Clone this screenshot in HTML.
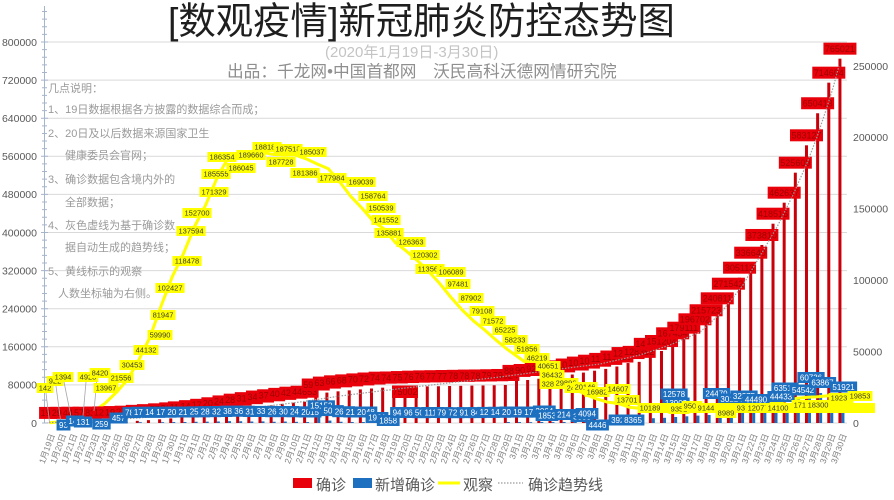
<!DOCTYPE html>
<html><head><meta charset="utf-8"><style>
html,body{margin:0;padding:0;background:#fff;}
svg{display:block;}
svg text{font-family:"Liberation Sans","Noto Sans CJK SC",sans-serif;}
.ax{font-size:10.5px;fill:#595959;}
.cat{font-size:8.5px;fill:#7f7f7f;text-anchor:end;}
.rb{fill:#c8000a;}
.bb{fill:#1d6fc0;}
.rl rect{fill:#e8000b;}
.rl text{font-size:9px;fill:#9c0000;text-anchor:middle;}
.bl rect{fill:#1d6fc0;}
.bl text{font-size:8px;fill:#fff;text-anchor:middle;}
.yl rect{fill:#ffff00;}
.yl text{font-size:7.5px;fill:#3c3c28;text-anchor:middle;}
.note{font-size:11px;fill:#9a9a9a;}
.lg{font-size:15px;fill:#595959;}
</style></head><body>
<svg width="894" height="500" viewBox="0 0 894 500" xmlns="http://www.w3.org/2000/svg">
<rect width="894" height="500" fill="#fff"/>
<!-- gridlines -->
<g stroke="#d9d9d9" stroke-width="1">
<line x1="44" y1="423" x2="847" y2="423"/><line x1="44" y1="384.9" x2="847" y2="384.9"/><line x1="44" y1="346.8" x2="847" y2="346.8"/><line x1="44" y1="308.7" x2="847" y2="308.7"/><line x1="44" y1="270.6" x2="847" y2="270.6"/><line x1="44" y1="232.5" x2="847" y2="232.5"/><line x1="44" y1="194.4" x2="847" y2="194.4"/><line x1="44" y1="156.3" x2="847" y2="156.3"/><line x1="44" y1="118.2" x2="847" y2="118.2"/><line x1="44" y1="80.1" x2="847" y2="80.1"/><line x1="44" y1="42" x2="847" y2="42"/>
</g>
<!-- left axis -->
<line x1="44.5" y1="6" x2="44.5" y2="423" stroke="#a6b4cc" stroke-width="1"/>
<path stroke="#a6b4cc" stroke-width="1" fill="none" d="M42 423h6M42 415.38h5M42 407.76h5M42 400.14h5M42 392.52h5M41 384.9h7M42 377.28h5M42 369.66h5M42 362.04h5M42 354.42h5M41 346.8h7M42 339.18h5M42 331.56h5M42 323.94h5M42 316.32h5M41 308.7h7M42 301.08h5M42 293.46h5M42 285.84h5M42 278.22h5M41 270.6h7M42 262.98h5M42 255.36h5M42 247.74h5M42 240.12h5M41 232.5h7M42 224.88h5M42 217.26h5M42 209.64h5M42 202.02h5M41 194.4h7M42 186.78h5M42 179.16h5M42 171.54h5M42 163.92h5M41 156.3h7M42 148.68h5M42 141.06h5M42 133.44h5M42 125.82h5M41 118.2h7M42 110.58h5M42 102.96h5M42 95.34h5M42 87.72h5M41 80.1h7M42 72.48h5M42 64.86h5M42 57.24h5M42 49.62h5M41 42h7M42 34.38h5M42 26.76h5M42 19.14h5M42 11.52h5"/>
<g class="ax" text-anchor="end">
<text x="37" y="426.8">0</text><text x="37" y="388.7">80000</text><text x="37" y="350.6">160000</text><text x="37" y="312.5">240000</text><text x="37" y="274.4">320000</text><text x="37" y="236.3">400000</text><text x="37" y="198.2">480000</text><text x="37" y="160.1">560000</text><text x="37" y="122">640000</text><text x="37" y="83.9">720000</text><text x="37" y="45.8">800000</text>
</g>
<g class="ax">
<text x="853" y="426.8">0</text><text x="853" y="355.4">50000</text><text x="853" y="284">100000</text><text x="853" y="212.6">150000</text><text x="853" y="141.2">200000</text><text x="853" y="69.8">250000</text>
</g>
<!-- titles -->
<text x="168" y="34" style="font-size:37.4px;fill:#1e1e1e;">[数观疫情]新冠肺炎防控态势图</text>
<text x="325" y="57" style="font-size:15px;fill:#c4c4c4;">(2020年1月19日-3月30日)</text>
<text x="227" y="77" style="font-size:16.7px;fill:#8f8f8f;">出品：千龙网•中国首都网　沃民高科沃德网情研究院</text>
<!-- notes -->
<g class="note">
<text x="48" y="92">几点说明：</text>
<text x="48" y="113">1、19日数据根据各方披露的数据综合而成；</text>
<text x="48" y="137">2、20日及以后数据来源国家卫生</text>
<text x="65" y="159">健康委员会官网；</text>
<text x="48" y="183">3、确诊数据包含境内外的</text>
<text x="65" y="206">全部数据；</text>
<text x="48" y="229">4、灰色虚线为基于确诊数</text>
<text x="65" y="251">据自动生成的趋势线；</text>
<text x="48" y="275">5、黄线标示的观察</text>
<text x="58" y="297">人数坐标轴为右侧。</text>
</g>
<!-- red bars -->
<g class="rb">
<rect x="46.58" y="422.91" width="3" height="0.09"/><rect x="57.73" y="422.86" width="3" height="0.14"/><rect x="68.88" y="422.79" width="3" height="0.21"/><rect x="80.04" y="422.73" width="3" height="0.27"/><rect x="91.19" y="422.6" width="3" height="0.4"/><rect x="102.34" y="422.39" width="3" height="0.61"/><rect x="113.5" y="422.06" width="3" height="0.94"/><rect x="124.65" y="421.69" width="3" height="1.31"/><rect x="135.8" y="420.85" width="3" height="2.15"/><rect x="146.95" y="420.15" width="3" height="2.85"/><rect x="158.11" y="419.33" width="3" height="3.67"/><rect x="169.26" y="418.38" width="3" height="4.62"/><rect x="180.41" y="417.38" width="3" height="5.62"/><rect x="191.57" y="416.15" width="3" height="6.85"/><rect x="202.72" y="414.81" width="3" height="8.19"/><rect x="213.87" y="413.27" width="3" height="9.73"/><rect x="225.02" y="411.42" width="3" height="11.58"/><rect x="236.18" y="409.66" width="3" height="13.34"/><rect x="247.33" y="408.16" width="3" height="14.84"/><rect x="258.48" y="406.55" width="3" height="16.45"/><rect x="269.64" y="405.28" width="3" height="17.72"/><rect x="280.79" y="403.87" width="3" height="19.13"/><rect x="291.94" y="402.69" width="3" height="20.31"/><rect x="303.1" y="401.73" width="3" height="21.27"/><rect x="314.25" y="394.52" width="3" height="28.48"/><rect x="325.4" y="392.59" width="3" height="30.41"/><rect x="336.55" y="391.33" width="3" height="31.67"/><rect x="347.71" y="390.38" width="3" height="32.62"/><rect x="358.86" y="389.4" width="3" height="33.6"/><rect x="370.01" y="388.5" width="3" height="34.5"/><rect x="381.17" y="387.67" width="3" height="35.33"/><rect x="392.32" y="387.48" width="3" height="35.52"/><rect x="403.47" y="387.06" width="3" height="35.94"/><rect x="414.62" y="386.67" width="3" height="36.33"/><rect x="425.78" y="386.36" width="3" height="36.64"/><rect x="436.93" y="386.26" width="3" height="36.74"/><rect x="448.08" y="386.02" width="3" height="36.98"/><rect x="459.24" y="385.82" width="3" height="37.18"/><rect x="470.39" y="385.62" width="3" height="37.38"/><rect x="481.54" y="385.46" width="3" height="37.54"/><rect x="492.7" y="385.26" width="3" height="37.74"/><rect x="503.85" y="384.98" width="3" height="38.02"/><rect x="515" y="380.91" width="3" height="42.09"/><rect x="526.15" y="379.99" width="3" height="43.01"/><rect x="537.31" y="378.78" width="3" height="44.22"/><rect x="548.46" y="377.7" width="3" height="45.3"/><rect x="559.61" y="376.38" width="3" height="46.62"/><rect x="570.77" y="374.52" width="3" height="48.48"/><rect x="581.92" y="372.59" width="3" height="50.41"/><rect x="593.07" y="370.7" width="3" height="52.3"/><rect x="604.23" y="368.9" width="3" height="54.1"/><rect x="615.38" y="366.51" width="3" height="56.49"/><rect x="626.53" y="363.05" width="3" height="59.95"/><rect x="637.68" y="361.87" width="3" height="61.13"/><rect x="648.84" y="353.85" width="3" height="69.15"/><rect x="659.99" y="350.99" width="3" height="72.01"/><rect x="671.14" y="343.32" width="3" height="79.68"/><rect x="682.3" y="337.7" width="3" height="85.3"/><rect x="693.45" y="329.32" width="3" height="93.68"/><rect x="704.6" y="320.27" width="3" height="102.73"/><rect x="715.76" y="308.32" width="3" height="114.68"/><rect x="726.91" y="293.7" width="3" height="129.3"/><rect x="738.06" y="277.7" width="3" height="145.3"/><rect x="749.21" y="262.69" width="3" height="160.31"/><rect x="760.37" y="244.98" width="3" height="178.02"/><rect x="771.52" y="223.69" width="3" height="199.31"/><rect x="782.67" y="202.69" width="3" height="220.31"/><rect x="793.83" y="172.68" width="3" height="250.32"/><rect x="804.98" y="145.3" width="3" height="277.7"/><rect x="816.13" y="113.25" width="3" height="309.75"/><rect x="827.29" y="82.67" width="3" height="340.33"/><rect x="838.44" y="58.67" width="3" height="364.33"/>
</g>
<!-- blue bars -->
<g class="bb">
<rect x="138.8" y="422.16" width="3" height="0.84"/><rect x="161.11" y="422.17" width="3" height="0.83"/><rect x="172.26" y="422.05" width="3" height="0.95"/><rect x="183.41" y="422" width="3" height="1"/><rect x="194.57" y="421.77" width="3" height="1.23"/><rect x="205.72" y="421.65" width="3" height="1.35"/><rect x="216.87" y="421.46" width="3" height="1.54"/><rect x="228.02" y="421.15" width="3" height="1.85"/><rect x="239.18" y="421.24" width="3" height="1.76"/><rect x="250.33" y="421.5" width="3" height="1.5"/><rect x="261.48" y="421.38" width="3" height="1.62"/><rect x="272.64" y="421.74" width="3" height="1.26"/><rect x="283.79" y="421.54" width="3" height="1.46"/><rect x="294.94" y="421.82" width="3" height="1.18"/><rect x="306.1" y="422.04" width="3" height="0.96"/><rect x="317.25" y="415.78" width="3" height="7.22"/><rect x="328.4" y="420.58" width="3" height="2.42"/><rect x="339.55" y="421.74" width="3" height="1.26"/><rect x="350.71" y="421.98" width="3" height="1.02"/><rect x="361.86" y="422.02" width="3" height="0.98"/><rect x="373.01" y="422.07" width="3" height="0.93"/><rect x="384.17" y="422.12" width="3" height="0.88"/><rect x="506.85" y="422.02" width="3" height="0.98"/><rect x="518" y="422.06" width="3" height="0.94"/><rect x="529.15" y="422.15" width="3" height="0.85"/><rect x="540.31" y="422.02" width="3" height="0.98"/><rect x="551.46" y="422.12" width="3" height="0.88"/><rect x="562.61" y="421.98" width="3" height="1.02"/><rect x="573.77" y="421.57" width="3" height="1.43"/><rect x="584.92" y="421.05" width="3" height="1.95"/><rect x="596.07" y="420.88" width="3" height="2.12"/><rect x="607.23" y="421.13" width="3" height="1.87"/><rect x="618.38" y="419.02" width="3" height="3.98"/><rect x="629.53" y="419.9" width="3" height="3.1"/><rect x="640.68" y="419.4" width="3" height="3.6"/><rect x="651.84" y="418.2" width="3" height="4.8"/><rect x="662.99" y="417.8" width="3" height="5.2"/><rect x="674.14" y="417" width="3" height="6"/><rect x="685.3" y="416.3" width="3" height="6.7"/><rect x="696.45" y="415.6" width="3" height="7.4"/><rect x="707.6" y="415" width="3" height="8"/><rect x="718.76" y="414" width="3" height="9"/><rect x="729.91" y="413" width="3" height="10"/><rect x="741.06" y="411" width="3" height="12"/><rect x="752.21" y="410" width="3" height="13"/><rect x="763.37" y="408" width="3" height="15"/><rect x="774.52" y="406" width="3" height="17"/><rect x="785.67" y="403" width="3" height="20"/><rect x="796.83" y="398" width="3" height="25"/><rect x="807.98" y="395" width="3" height="28"/><rect x="819.13" y="393" width="3" height="30"/><rect x="830.29" y="395" width="3" height="28"/><rect x="841.44" y="398" width="3" height="25"/>
</g>
<!-- observation line -->
<polyline fill="none" stroke="#ffff00" stroke-width="3" stroke-linejoin="round" points="49.58,422.8 60.73,421.7 71.88,421 83.04,416 94.19,411 105.34,403.1 116.5,392.2 127.65,379.5 138.8,360 149.95,337.3 161.11,306 172.26,276.7 183.41,253.8 194.57,226.5 205.72,204.9 216.87,178.3 228.02,158 239.18,156.9 250.33,157.3 261.48,152.2 272.64,154.3 283.79,155.2 294.94,154.9 306.1,158.8 317.25,164 328.4,168.8 339.55,181.6 350.71,196.3 361.86,208 373.01,220.9 384.17,229 395.32,242.6 406.47,251.2 417.62,260.8 428.78,271.5 439.93,283.8 451.08,297.5 462.24,310 473.39,320.8 484.54,329.9 495.7,339.8 506.85,349 518,357 529.15,365 540.31,371 551.46,376.1 562.61,380.3 573.77,388.2 584.92,394.2 596.07,398.7 607.23,402.1 618.38,403.4 629.53,407.3 640.68,408.4 651.84,409 662.99,409.3 674.14,409.6 685.3,409.7 696.45,409.9 707.6,409.9 718.76,410.2 729.91,410 741.06,409.7 752.21,405.8 763.37,404.4 774.52,403 785.67,400.9 796.83,398.4 807.98,397.3 819.13,396.6 830.29,395.5 841.44,394.7"/>
<!-- red labels -->
<g class="rl">
<rect x="39.08" y="406.91" width="18" height="12"/><text x="48.08" y="416.21">198</text>
<rect x="50.23" y="406.86" width="18" height="12"/><text x="59.23" y="416.16">291</text>
<rect x="61.38" y="406.79" width="18" height="12"/><text x="70.38" y="416.09">440</text>
<rect x="72.54" y="406.73" width="18" height="12"/><text x="81.54" y="416.03">571</text>
<rect x="83.69" y="406.6" width="18" height="12"/><text x="92.69" y="415.9">830</text>
<rect x="92.34" y="406.39" width="23" height="12"/><text x="103.84" y="415.69">1287</text>
<rect x="103.5" y="406.06" width="23" height="12"/><text x="115" y="415.36">1975</text>
<rect x="114.65" y="405.69" width="23" height="12"/><text x="126.15" y="414.99">2744</text>
<rect x="125.8" y="404.85" width="23" height="12"/><text x="137.3" y="414.15">4515</text>
<rect x="136.95" y="404.15" width="23" height="12"/><text x="148.45" y="413.45">5974</text>
<rect x="148.11" y="403.33" width="23" height="12"/><text x="159.61" y="412.63">7711</text>
<rect x="159.26" y="402.38" width="23" height="12"/><text x="170.76" y="411.68">9692</text>
<rect x="167.91" y="401.38" width="28" height="12"/><text x="181.91" y="410.68">11791</text>
<rect x="179.07" y="400.15" width="28" height="12"/><text x="193.07" y="409.45">14380</text>
<rect x="190.22" y="398.81" width="28" height="12"/><text x="204.22" y="408.11">17205</text>
<rect x="201.37" y="397.27" width="28" height="12"/><text x="215.37" y="406.57">20438</text>
<rect x="212.52" y="395.42" width="28" height="12"/><text x="226.52" y="404.72">24324</text>
<rect x="223.68" y="393.66" width="28" height="12"/><text x="237.68" y="402.96">28018</text>
<rect x="234.83" y="392.16" width="28" height="12"/><text x="248.83" y="401.46">31161</text>
<rect x="245.98" y="390.55" width="28" height="12"/><text x="259.98" y="399.85">34546</text>
<rect x="257.14" y="389.28" width="28" height="12"/><text x="271.14" y="398.58">37198</text>
<rect x="268.29" y="387.87" width="28" height="12"/><text x="282.29" y="397.17">40171</text>
<rect x="279.44" y="386.69" width="28" height="12"/><text x="293.44" y="395.99">42638</text>
<rect x="290.6" y="385.73" width="28" height="12"/><text x="304.6" y="395.03">44653</text>
<rect x="301.75" y="378.52" width="28" height="12"/><text x="315.75" y="387.82">59804</text>
<rect x="312.9" y="376.59" width="28" height="12"/><text x="326.9" y="385.89">63851</text>
<rect x="324.05" y="375.33" width="28" height="12"/><text x="338.05" y="384.63">66492</text>
<rect x="335.21" y="374.38" width="28" height="12"/><text x="349.21" y="383.68">68500</text>
<rect x="346.36" y="373.4" width="28" height="12"/><text x="360.36" y="382.7">70548</text>
<rect x="357.51" y="372.5" width="28" height="12"/><text x="371.51" y="381.8">72436</text>
<rect x="368.67" y="371.67" width="28" height="12"/><text x="382.67" y="380.97">74185</text>
<rect x="379.82" y="371.48" width="28" height="12"/><text x="393.82" y="380.78">74576</text>
<rect x="390.97" y="371.06" width="28" height="12"/><text x="404.97" y="380.36">75465</text>
<rect x="402.12" y="370.67" width="28" height="12"/><text x="416.12" y="379.97">76288</text>
<rect x="413.28" y="370.36" width="28" height="12"/><text x="427.28" y="379.66">76936</text>
<rect x="424.43" y="370.26" width="28" height="12"/><text x="438.43" y="379.56">77150</text>
<rect x="435.58" y="370.02" width="28" height="12"/><text x="449.58" y="379.32">77658</text>
<rect x="446.74" y="369.82" width="28" height="12"/><text x="460.74" y="379.12">78064</text>
<rect x="457.89" y="369.62" width="28" height="12"/><text x="471.89" y="378.92">78497</text>
<rect x="469.04" y="369.46" width="28" height="12"/><text x="483.04" y="378.76">78824</text>
<rect x="480.2" y="369.26" width="28" height="12"/><text x="494.2" y="378.56">79251</text>
<rect x="491.35" y="368.98" width="28" height="12"/><text x="505.35" y="378.28">79824</text>
<rect x="502.5" y="364.91" width="28" height="12"/><text x="516.5" y="374.21">88369</text>
<rect x="513.65" y="363.99" width="28" height="12"/><text x="527.65" y="373.29">90306</text>
<rect x="524.81" y="362.78" width="28" height="12"/><text x="538.81" y="372.08">92840</text>
<rect x="535.96" y="361.7" width="28" height="12"/><text x="549.96" y="371">95120</text>
<rect x="547.11" y="360.38" width="28" height="12"/><text x="561.11" y="369.68">97886</text>
<rect x="555.77" y="358.52" width="33" height="12"/><text x="572.27" y="367.82">101801</text>
<rect x="566.92" y="356.59" width="33" height="12"/><text x="583.42" y="365.89">105847</text>
<rect x="578.07" y="354.7" width="33" height="12"/><text x="594.57" y="364">109821</text>
<rect x="589.23" y="352.9" width="33" height="12"/><text x="605.73" y="362.2">113590</text>
<rect x="600.38" y="350.51" width="33" height="12"/><text x="616.88" y="359.81">118620</text>
<rect x="611.53" y="347.05" width="33" height="12"/><text x="628.03" y="356.35">125875</text>
<rect x="622.68" y="345.87" width="33" height="12"/><text x="639.18" y="355.17">128352</text>
<rect x="633.84" y="337.85" width="33" height="12"/><text x="650.34" y="347.15">145205</text>
<rect x="644.99" y="334.99" width="33" height="12"/><text x="661.49" y="344.29">151204</text>
<rect x="656.14" y="327.32" width="33" height="12"/><text x="672.64" y="336.62">167454</text>
<rect x="667.3" y="321.7" width="33" height="12"/><text x="683.8" y="331">179111</text>
<rect x="678.45" y="313.32" width="33" height="12"/><text x="694.95" y="322.62">196702</text>
<rect x="689.6" y="304.27" width="33" height="12"/><text x="706.1" y="313.57">215723</text>
<rect x="700.76" y="292.32" width="33" height="12"/><text x="717.26" y="301.62">240811</text>
<rect x="711.91" y="277.7" width="33" height="12"/><text x="728.41" y="287">271542</text>
<rect x="723.06" y="261.7" width="33" height="12"/><text x="739.56" y="271">305113</text>
<rect x="734.21" y="246.69" width="33" height="12"/><text x="750.71" y="255.99">336640</text>
<rect x="745.37" y="228.98" width="33" height="12"/><text x="761.87" y="238.28">373810</text>
<rect x="756.52" y="207.69" width="33" height="12"/><text x="773.02" y="216.99">418516</text>
<rect x="767.67" y="186.69" width="33" height="12"/><text x="784.17" y="195.99">462637</text>
<rect x="778.83" y="156.68" width="33" height="12"/><text x="795.33" y="165.98">525609</text>
<rect x="789.98" y="129.3" width="33" height="12"/><text x="806.48" y="138.6">583127</text>
<rect x="801.13" y="97.25" width="33" height="12"/><text x="817.63" y="106.55">650413</text>
<rect x="812.29" y="66.67" width="33" height="12"/><text x="828.79" y="75.97">714604</text>
<rect x="823.44" y="42.67" width="33" height="12"/><text x="839.94" y="51.97">765021</text>
<rect x="392" y="385.5" width="26" height="12.5"/><text x="405" y="395">75002</text>
</g>
<!-- trend line -->
<polyline fill="none" stroke="#9a9a9a" stroke-width="1.2" stroke-dasharray="1.5 1.5" points="49,422.6 90,421 130,418.5 180,415 220,411 260,407 300,402 340,396 380,391 440,384 500,377 560,369 600,364 640,355 670,345 700,332 720,314 743,285 760,256 777,227 793,195 807,163 817,137 826,110 833,88 839,66"/>
<!-- leader lines -->
<g stroke="#a6a6a6" stroke-width="0.8">
<line x1="46" y1="393" x2="49.5" y2="422.5"/><line x1="56" y1="386" x2="60.7" y2="421.5"/><line x1="64" y1="382" x2="71.9" y2="421"/><line x1="86" y1="382" x2="83" y2="416"/><line x1="97" y1="378" x2="94" y2="411"/>
</g>
<!-- blue labels -->
<g class="bl">
<rect x="56.55" y="419.5" width="13.9" height="11"/><text x="63.5" y="427.8">93</text>
<rect x="65.83" y="415.5" width="18.35" height="11"/><text x="75" y="423.8">149</text>
<rect x="73.83" y="416.5" width="18.35" height="11"/><text x="83" y="424.8">131</text>
<rect x="92.33" y="418.5" width="18.35" height="11"/><text x="101.5" y="426.8">259</text>
<rect x="109.33" y="412.5" width="18.35" height="11"/><text x="118.5" y="420.8">457</text>
<rect x="122.53" y="407.1" width="18.35" height="11"/><text x="131.7" y="415.4">787</text>
<rect x="131.4" y="406.7" width="22.8" height="11"/><text x="142.8" y="415">1771</text>
<rect x="142.6" y="406.8" width="22.8" height="11"/><text x="154" y="415.1">1459</text>
<rect x="153.7" y="406.7" width="22.8" height="11"/><text x="165.1" y="415">1737</text>
<rect x="164.9" y="406.5" width="22.8" height="11"/><text x="176.3" y="414.8">2001</text>
<rect x="176" y="406.5" width="22.8" height="11"/><text x="187.4" y="414.8">2102</text>
<rect x="187.2" y="406.3" width="22.8" height="11"/><text x="198.6" y="414.6">2590</text>
<rect x="198.3" y="406.2" width="22.8" height="11"/><text x="209.7" y="414.5">2829</text>
<rect x="209.5" y="406" width="22.8" height="11"/><text x="220.9" y="414.3">3235</text>
<rect x="220.6" y="405.6" width="22.8" height="11"/><text x="232" y="413.9">3887</text>
<rect x="231.8" y="405.7" width="22.8" height="11"/><text x="243.2" y="414">3694</text>
<rect x="242.9" y="406" width="22.8" height="11"/><text x="254.3" y="414.3">3143</text>
<rect x="254.1" y="405.9" width="22.8" height="11"/><text x="265.5" y="414.2">3399</text>
<rect x="265.2" y="406.2" width="22.8" height="11"/><text x="276.6" y="414.5">2656</text>
<rect x="276.4" y="406" width="22.8" height="11"/><text x="287.8" y="414.3">3062</text>
<rect x="287.5" y="406.3" width="22.8" height="11"/><text x="298.9" y="414.6">2478</text>
<rect x="298.7" y="406.5" width="22.8" height="11"/><text x="310.1" y="414.8">2015</text>
<rect x="307.68" y="400.3" width="27.25" height="11"/><text x="321.3" y="408.6">15152</text>
<rect x="321" y="405.1" width="22.8" height="11"/><text x="332.4" y="413.4">5090</text>
<rect x="332.2" y="406.2" width="22.8" height="11"/><text x="343.6" y="414.5">2641</text>
<rect x="343.3" y="406.5" width="22.8" height="11"/><text x="354.7" y="414.8">2147</text>
<rect x="354.5" y="406.5" width="22.8" height="11"/><text x="365.9" y="414.8">2048</text>
<rect x="365.6" y="412" width="22.8" height="11"/><text x="377" y="420.3">1961</text>
<rect x="376.8" y="415" width="22.8" height="11"/><text x="388.2" y="423.3">1858</text>
<rect x="390.13" y="407" width="18.35" height="11"/><text x="399.3" y="415.3">948</text>
<rect x="401.33" y="407" width="18.35" height="11"/><text x="410.5" y="415.3">961</text>
<rect x="412.43" y="407.2" width="18.35" height="11"/><text x="421.6" y="415.5">503</text>
<rect x="421.4" y="407" width="22.8" height="11"/><text x="432.8" y="415.3">1118</text>
<rect x="434.73" y="407.1" width="18.35" height="11"/><text x="443.9" y="415.4">795</text>
<rect x="445.93" y="407.2" width="18.35" height="11"/><text x="455.1" y="415.5">728</text>
<rect x="457.03" y="407.1" width="18.35" height="11"/><text x="466.2" y="415.4">915</text>
<rect x="468.23" y="407.1" width="18.35" height="11"/><text x="477.4" y="415.4">845</text>
<rect x="477.1" y="406.9" width="22.8" height="11"/><text x="488.5" y="415.2">1250</text>
<rect x="488.3" y="406.8" width="22.8" height="11"/><text x="499.7" y="415.1">1421</text>
<rect x="499.5" y="406.5" width="22.8" height="11"/><text x="510.9" y="414.8">2050</text>
<rect x="510.6" y="406.6" width="22.8" height="11"/><text x="522" y="414.9">1977</text>
<rect x="521.8" y="406.6" width="22.8" height="11"/><text x="533.2" y="414.9">1788</text>
<rect x="532.9" y="405.5" width="22.8" height="11"/><text x="544.3" y="413.8">2064</text>
<rect x="535.6" y="410" width="22.8" height="11"/><text x="547" y="418.3">1853</text>
<rect x="554.6" y="409" width="22.8" height="11"/><text x="566" y="417.3">2140</text>
<rect x="570.6" y="411" width="22.8" height="11"/><text x="582" y="419.3">3000</text>
<rect x="575.6" y="408" width="22.8" height="11"/><text x="587" y="416.3">4094</text>
<rect x="586.1" y="419.5" width="22.8" height="11"/><text x="597.5" y="427.8">4446</text>
<rect x="608.6" y="414.5" width="22.8" height="11"/><text x="620" y="422.8">3921</text>
<rect x="621.6" y="414.5" width="22.8" height="11"/><text x="633" y="422.8">8365</text>
<rect x="662.38" y="397.5" width="27.25" height="11"/><text x="676" y="405.8">13903</text>
<rect x="660.38" y="388.5" width="27.25" height="11"/><text x="674" y="396.8">12578</text>
<rect x="702.88" y="388" width="27.25" height="11"/><text x="716.5" y="396.3">24479</text>
<rect x="717.88" y="393.5" width="27.25" height="11"/><text x="731.5" y="401.8">30124</text>
<rect x="730.38" y="390.5" width="27.25" height="11"/><text x="744" y="398.8">32375</text>
<rect x="742.38" y="394" width="27.25" height="11"/><text x="756" y="402.3">44490</text>
<rect x="767.38" y="391" width="27.25" height="11"/><text x="781" y="399.3">44433</text>
<rect x="771.38" y="382.5" width="27.25" height="11"/><text x="785" y="390.8">63512</text>
<rect x="789.38" y="384.5" width="27.25" height="11"/><text x="803" y="392.8">54542</text>
<rect x="797.38" y="372" width="27.25" height="11"/><text x="811" y="380.3">60736</text>
<rect x="808.88" y="377" width="27.25" height="11"/><text x="822.5" y="385.3">63867</text>
<rect x="829.88" y="381.5" width="27.25" height="11"/><text x="843.5" y="389.8">51921</text>
</g>
<!-- yellow labels -->
<g class="yl">
<rect x="660" y="403" width="215" height="10"/>
<rect x="36.7" y="383" width="16.6" height="10"/><text x="45" y="390.6">142</text>
<rect x="46.7" y="376" width="16.6" height="10"/><text x="55" y="383.6">922</text>
<rect x="52.6" y="372" width="20.8" height="10"/><text x="63" y="379.6">1394</text>
<rect x="77.6" y="372" width="20.8" height="10"/><text x="88" y="379.6">4928</text>
<rect x="89.6" y="368" width="20.8" height="10"/><text x="100" y="375.6">8420</text>
<rect x="93.5" y="383" width="25" height="10"/><text x="106" y="390.6">13967</text>
<rect x="108.5" y="373" width="25" height="10"/><text x="121" y="380.6">21556</text>
<rect x="119.5" y="360" width="25" height="10"/><text x="132" y="367.6">30453</text>
<rect x="133.5" y="345" width="25" height="10"/><text x="146" y="352.6">44132</text>
<rect x="147.5" y="330" width="25" height="10"/><text x="160" y="337.6">59990</text>
<rect x="150.5" y="310" width="25" height="10"/><text x="163" y="317.6">81947</text>
<rect x="155.4" y="283" width="29.2" height="10"/><text x="170" y="290.6">102427</text>
<rect x="172.4" y="256" width="29.2" height="10"/><text x="187" y="263.6">118478</text>
<rect x="176.4" y="226" width="29.2" height="10"/><text x="191" y="233.6">137594</text>
<rect x="182.4" y="208" width="29.2" height="10"/><text x="197" y="215.6">152700</text>
<rect x="199.4" y="187" width="29.2" height="10"/><text x="214" y="194.6">171329</text>
<rect x="201.4" y="169" width="29.2" height="10"/><text x="216" y="176.6">185555</text>
<rect x="207.4" y="152" width="29.2" height="10"/><text x="222" y="159.6">186354</text>
<rect x="226.4" y="163" width="29.2" height="10"/><text x="241" y="170.6">186045</text>
<rect x="236.4" y="150" width="29.2" height="10"/><text x="251" y="157.6">189660</text>
<rect x="252.4" y="142" width="29.2" height="10"/><text x="267" y="149.6">188183</text>
<rect x="273.4" y="144" width="29.2" height="10"/><text x="288" y="151.6">187518</text>
<rect x="266.4" y="157" width="29.2" height="10"/><text x="281" y="164.6">187728</text>
<rect x="297.4" y="147" width="29.2" height="10"/><text x="312" y="154.6">185037</text>
<rect x="290.4" y="168" width="29.2" height="10"/><text x="305" y="175.6">181386</text>
<rect x="317.4" y="173" width="29.2" height="10"/><text x="332" y="180.6">177984</text>
<rect x="346.4" y="177" width="29.2" height="10"/><text x="361" y="184.6">169039</text>
<rect x="358.4" y="191" width="29.2" height="10"/><text x="373" y="198.6">158764</text>
<rect x="366.4" y="203" width="29.2" height="10"/><text x="381" y="210.6">150539</text>
<rect x="371.4" y="215" width="29.2" height="10"/><text x="386" y="222.6">141552</text>
<rect x="374.4" y="228" width="29.2" height="10"/><text x="389" y="235.6">135881</text>
<rect x="396.4" y="237" width="29.2" height="10"/><text x="411" y="244.6">126363</text>
<rect x="410.4" y="250" width="29.2" height="10"/><text x="425" y="257.6">120302</text>
<rect x="415.4" y="264" width="29.2" height="10"/><text x="430" y="271.6">113564</text>
<rect x="436.4" y="267" width="29.2" height="10"/><text x="451" y="274.6">106089</text>
<rect x="445.5" y="279" width="25" height="10"/><text x="458" y="286.6">97481</text>
<rect x="458.5" y="293" width="25" height="10"/><text x="471" y="300.6">87902</text>
<rect x="469.5" y="306" width="25" height="10"/><text x="482" y="313.6">79108</text>
<rect x="480.5" y="316" width="25" height="10"/><text x="493" y="323.6">71572</text>
<rect x="492.5" y="325" width="25" height="10"/><text x="505" y="332.6">65225</text>
<rect x="502.5" y="335" width="25" height="10"/><text x="515" y="342.6">58233</text>
<rect x="514.5" y="344" width="25" height="10"/><text x="527" y="351.6">51856</text>
<rect x="524.5" y="353" width="25" height="10"/><text x="537" y="360.6">46219</text>
<rect x="535.5" y="361" width="25" height="10"/><text x="548" y="368.6">40651</text>
<rect x="539.5" y="370" width="25" height="10"/><text x="552" y="377.6">36432</text>
<rect x="539.5" y="379" width="25" height="10"/><text x="552" y="386.6">32870</text>
<rect x="553.5" y="378" width="25" height="10"/><text x="566" y="385.6">29896</text>
<rect x="564.5" y="383" width="25" height="10"/><text x="577" y="390.6">24371</text>
<rect x="572.5" y="382" width="25" height="10"/><text x="585" y="389.6">20146</text>
<rect x="584.5" y="387" width="25" height="10"/><text x="597" y="394.6">16982</text>
<rect x="605.5" y="384" width="25" height="10"/><text x="618" y="391.6">14607</text>
<rect x="614.5" y="395" width="25" height="10"/><text x="627" y="402.6">13701</text>
<rect x="637.5" y="403" width="25" height="10"/><text x="650" y="410.6">10189</text>
<rect x="668.6" y="404" width="20.8" height="10"/><text x="679" y="411.6">9351</text>
<rect x="681.6" y="401" width="20.8" height="10"/><text x="692" y="408.6">9507</text>
<rect x="695.6" y="403" width="20.8" height="10"/><text x="706" y="410.6">9144</text>
<rect x="715.6" y="408" width="20.8" height="10"/><text x="726" y="415.6">8989</text>
<rect x="734.6" y="403" width="20.8" height="10"/><text x="745" y="410.6">9312</text>
<rect x="745.5" y="403" width="25" height="10"/><text x="758" y="410.6">12077</text>
<rect x="765.5" y="403" width="25" height="10"/><text x="778" y="410.6">14100</text>
<rect x="791.5" y="400" width="25" height="10"/><text x="804" y="407.6">17198</text>
<rect x="805.5" y="400" width="25" height="10"/><text x="818" y="407.6">18300</text>
<rect x="828.5" y="393" width="25" height="10"/><text x="841" y="400.6">19235</text>
<rect x="847.5" y="391" width="25" height="10"/><text x="860" y="398.6">19853</text>
</g>
<!-- category labels -->
<g class="cat">
<text transform="translate(55.08,435) rotate(-70)">1月19日</text>
<text transform="translate(66.23,435) rotate(-70)">1月20日</text>
<text transform="translate(77.38,435) rotate(-70)">1月21日</text>
<text transform="translate(88.54,435) rotate(-70)">1月22日</text>
<text transform="translate(99.69,435) rotate(-70)">1月23日</text>
<text transform="translate(110.84,435) rotate(-70)">1月24日</text>
<text transform="translate(122,435) rotate(-70)">1月25日</text>
<text transform="translate(133.15,435) rotate(-70)">1月26日</text>
<text transform="translate(144.3,435) rotate(-70)">1月27日</text>
<text transform="translate(155.45,435) rotate(-70)">1月28日</text>
<text transform="translate(166.61,435) rotate(-70)">1月29日</text>
<text transform="translate(177.76,435) rotate(-70)">1月30日</text>
<text transform="translate(188.91,435) rotate(-70)">1月31日</text>
<text transform="translate(200.07,435) rotate(-70)">2月1日</text>
<text transform="translate(211.22,435) rotate(-70)">2月2日</text>
<text transform="translate(222.37,435) rotate(-70)">2月3日</text>
<text transform="translate(233.52,435) rotate(-70)">2月4日</text>
<text transform="translate(244.68,435) rotate(-70)">2月5日</text>
<text transform="translate(255.83,435) rotate(-70)">2月6日</text>
<text transform="translate(266.98,435) rotate(-70)">2月7日</text>
<text transform="translate(278.14,435) rotate(-70)">2月8日</text>
<text transform="translate(289.29,435) rotate(-70)">2月9日</text>
<text transform="translate(300.44,435) rotate(-70)">2月10日</text>
<text transform="translate(311.6,435) rotate(-70)">2月11日</text>
<text transform="translate(322.75,435) rotate(-70)">2月12日</text>
<text transform="translate(333.9,435) rotate(-70)">2月13日</text>
<text transform="translate(345.05,435) rotate(-70)">2月14日</text>
<text transform="translate(356.21,435) rotate(-70)">2月15日</text>
<text transform="translate(367.36,435) rotate(-70)">2月16日</text>
<text transform="translate(378.51,435) rotate(-70)">2月17日</text>
<text transform="translate(389.67,435) rotate(-70)">2月18日</text>
<text transform="translate(400.82,435) rotate(-70)">2月19日</text>
<text transform="translate(411.97,435) rotate(-70)">2月20日</text>
<text transform="translate(423.12,435) rotate(-70)">2月21日</text>
<text transform="translate(434.28,435) rotate(-70)">2月22日</text>
<text transform="translate(445.43,435) rotate(-70)">2月23日</text>
<text transform="translate(456.58,435) rotate(-70)">2月24日</text>
<text transform="translate(467.74,435) rotate(-70)">2月25日</text>
<text transform="translate(478.89,435) rotate(-70)">2月26日</text>
<text transform="translate(490.04,435) rotate(-70)">2月27日</text>
<text transform="translate(501.2,435) rotate(-70)">2月28日</text>
<text transform="translate(512.35,435) rotate(-70)">2月29日</text>
<text transform="translate(523.5,435) rotate(-70)">3月1日</text>
<text transform="translate(534.65,435) rotate(-70)">3月2日</text>
<text transform="translate(545.81,435) rotate(-70)">3月3日</text>
<text transform="translate(556.96,435) rotate(-70)">3月4日</text>
<text transform="translate(568.11,435) rotate(-70)">3月5日</text>
<text transform="translate(579.27,435) rotate(-70)">3月6日</text>
<text transform="translate(590.42,435) rotate(-70)">3月7日</text>
<text transform="translate(601.57,435) rotate(-70)">3月8日</text>
<text transform="translate(612.73,435) rotate(-70)">3月9日</text>
<text transform="translate(623.88,435) rotate(-70)">3月10日</text>
<text transform="translate(635.03,435) rotate(-70)">3月11日</text>
<text transform="translate(646.18,435) rotate(-70)">3月12日</text>
<text transform="translate(657.34,435) rotate(-70)">3月13日</text>
<text transform="translate(668.49,435) rotate(-70)">3月14日</text>
<text transform="translate(679.64,435) rotate(-70)">3月15日</text>
<text transform="translate(690.8,435) rotate(-70)">3月16日</text>
<text transform="translate(701.95,435) rotate(-70)">3月17日</text>
<text transform="translate(713.1,435) rotate(-70)">3月18日</text>
<text transform="translate(724.26,435) rotate(-70)">3月19日</text>
<text transform="translate(735.41,435) rotate(-70)">3月20日</text>
<text transform="translate(746.56,435) rotate(-70)">3月21日</text>
<text transform="translate(757.71,435) rotate(-70)">3月22日</text>
<text transform="translate(768.87,435) rotate(-70)">3月23日</text>
<text transform="translate(780.02,435) rotate(-70)">3月24日</text>
<text transform="translate(791.17,435) rotate(-70)">3月25日</text>
<text transform="translate(802.33,435) rotate(-70)">3月26日</text>
<text transform="translate(813.48,435) rotate(-70)">3月27日</text>
<text transform="translate(824.63,435) rotate(-70)">3月28日</text>
<text transform="translate(835.79,435) rotate(-70)">3月29日</text>
<text transform="translate(846.94,435) rotate(-70)">3月30日</text>
</g>
<!-- legend -->
<rect x="293" y="478" width="19" height="10" fill="#e8000b"/>
<text class="lg" x="316" y="490">确诊</text>
<rect x="353" y="478" width="19" height="10" fill="#1d6fc0"/>
<text class="lg" x="375" y="490">新增确诊</text>
<line x1="438" y1="483" x2="460" y2="483" stroke="#ffff00" stroke-width="3"/>
<text class="lg" x="463" y="490">观察</text>
<line x1="498" y1="483" x2="523" y2="483" stroke="#9a9a9a" stroke-width="1.2" stroke-dasharray="1.5 1.5"/>
<text class="lg" x="528" y="490">确诊趋势线</text>
</svg>
</body></html>
